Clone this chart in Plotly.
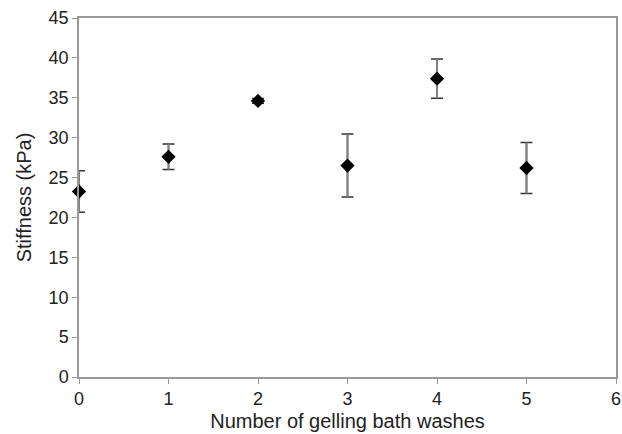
import plotly.graph_objects as go

washes = [0, 1, 2, 3, 4, 5]
stiffness = [23.25, 27.6, 34.6, 26.5, 37.4, 26.2]
err = [2.6, 1.6, 0.3, 3.95, 2.45, 3.2]

FONT = "Liberation Sans, Arial"

fig = go.Figure()
# dark caps
fig.add_trace(go.Scatter(
    x=washes, y=stiffness, mode="markers",
    marker=dict(size=1, color="rgba(0,0,0,0)"),
    error_y=dict(type="data", array=err, visible=True, color="#333333", thickness=1.5, width=6),
    cliponaxis=False, showlegend=False, hoverinfo="skip",
))
# gray stems + markers
fig.add_trace(go.Scatter(
    x=washes, y=stiffness, mode="markers",
    marker=dict(symbol="diamond", size=11, color="black"),
    error_y=dict(type="data", array=err, visible=True, color="#808080", thickness=2, width=0),
    cliponaxis=False, showlegend=False,
))

axis_common = dict(
    showgrid=False, zeroline=False, showline=True, linecolor="#999999", linewidth=1.5,
    mirror=True, ticks="outside", ticklen=5, tickcolor="#999999", automargin=False,
    tickfont=dict(family=FONT, size=18, color="#222222"),
)
fig.update_layout(
    width=622, height=434,
    margin=dict(l=79, r=6, t=18, b=57),
    plot_bgcolor="white", paper_bgcolor="white",
    xaxis=dict(range=[0, 6], dtick=1, title=dict(text="Number of gelling bath washes", font=dict(family=FONT, size=20, color="#222222"), standoff=6), **axis_common),
    yaxis=dict(range=[0, 45], dtick=5, title=dict(text="Stiffness (kPa)", font=dict(family=FONT, size=20, color="#222222"), standoff=12), **axis_common),
)
fig.write_html("out.html")
